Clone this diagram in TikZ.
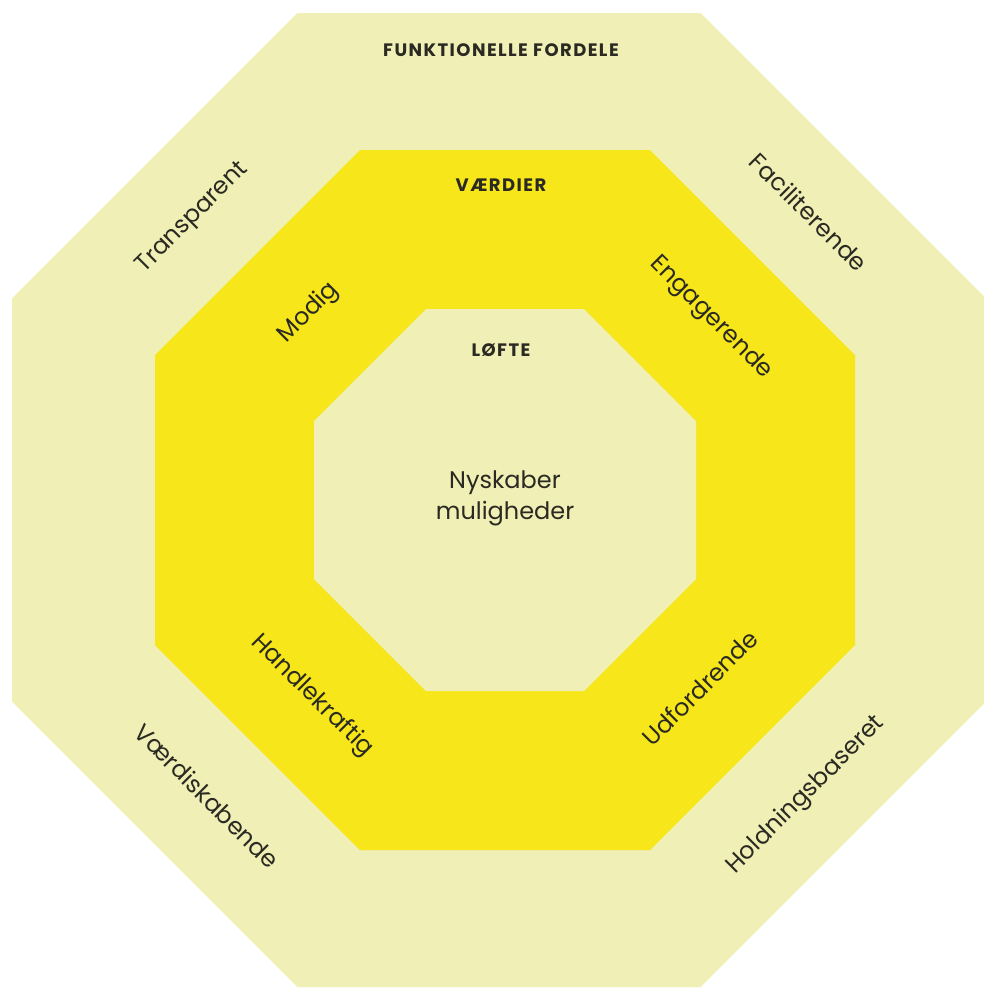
\documentclass[tikz,border=0pt]{standalone}
\usepackage{fontspec}
\setmainfont{Poppins}
\definecolor{paleY}{HTML}{EFEFB6}
\definecolor{strongY}{HTML}{F6E61A}
\definecolor{inkC}{HTML}{2A2A22}
\begin{document}
\begin{tikzpicture}[x=1pt,y=-1pt,
  lbl/.style={text=inkC,font=\fontsize{24}{28}\selectfont,inner sep=0pt},
  hdr/.style={text=inkC,font=\fontsize{18}{20}\selectfont\bfseries\addfontfeatures{LetterSpace=8},inner sep=0pt}]
\useasboundingbox (0,0) rectangle (984,989);
\fill[white] (0,0) rectangle (984,989);
% outer octagon
\fill[paleY] (297.3,13) -- (700.7,13) -- (986,298.3) -- (986,701.7) -- (700.7,987) -- (297.3,987) -- (12,701.7) -- (12,298.3) -- cycle;
% middle octagon
\fill[strongY] (360,150) -- (650,150) -- (855,355) -- (855,645) -- (650,850) -- (360,850) -- (155,645) -- (155,355) -- cycle;
% inner octagon
\fill[paleY] (426,309) -- (584,309) -- (696,421) -- (696,579) -- (584,691) -- (426,691) -- (314,579) -- (314,421) -- cycle;
% headers
\node[hdr] (funk) at (501,50) {FUNKTIONELLE FORDELE};
\node[hdr] (vaer) at (501,185) {VÆRDIER};
\node[hdr] (lofte) at (501,350) {LØFTE};
\node[lbl,align=center,font=\fontsize{24}{31}\selectfont] (center) at (505,498) {Nyskaber\\muligheder};
% values
\node[lbl,rotate=45] (modig) at (309,313) {Modig};
\node[lbl,rotate=-45] (eng) at (711,318) {Engagerende};
\node[lbl,rotate=-45] (hand) at (312,696) {Handlekraftig};
\node[lbl,rotate=45] (udf) at (700,688) {Udfordrende};
% functional
\node[lbl,rotate=45] (trans) at (193,218) {Transparent};
\node[lbl,rotate=-45] (fac) at (809,212) {Faciliterende};
\node[lbl,rotate=-45] (vskab) at (207,796) {Værdiskabende};
\node[lbl,rotate=45] (hold) at (806,795) {Holdningsbaseret};
\end{tikzpicture}
\end{document}
